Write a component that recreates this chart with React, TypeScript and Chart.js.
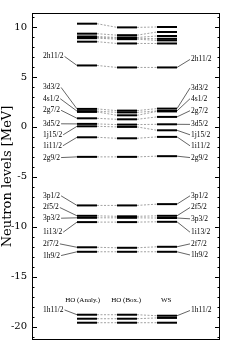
import React, { useEffect, useRef } from "react";
import { Chart, registerables } from "chart.js";
Chart.register(...registerables);

// ---- data ----
const models = ["HO (Analy.)", "HO (Box.)", "WS"];
const modelX = [1, 2, 3];
const modelLabelX = [0.89, 1.98, 2.98];
const modelLabelY = -17.3;

const stateNames = ["", "", "", "", "", "", "2h11/2", "3d3/2", "4s1/2", "", "2g7/2", "3d5/2", "1j15/2", "1i11/2", "2g9/2", "3p1/2", "2f5/2", "3p3/2", "1i13/2", "2f7/2", "1h9/2", "1h11/2", "", ""];
const hoAnaly = [10.33, 9.33, 9.05, 8.95, 8.88, 8.53, 6.15, 1.8, 1.58, 1.5, 0.86, 0.3, 0.06, -1.04, -3.0, -7.86, -8.9, -9.1, -9.53, -12.05, -12.5, -18.8, -19.2, -19.6];
const hoBox = [9.96, 9.18, 8.95, 8.88, 8.78, 8.35, 5.95, 1.63, 1.45, 1.16, 0.76, 0.23, 0.0, -1.14, -3.0, -7.86, -8.95, -9.1, -9.53, -12.1, -12.5, -18.8, -19.2, -19.6];
const ws = [10.0, 9.5, 9.1, 8.82, 8.66, 8.35, 5.95, 1.83, 1.6, 1.55, 1.0, 0.26, -0.34, -1.0, -2.93, -7.73, -8.9, -9.12, -9.5, -12.0, -12.5, -18.9, -19.12, -19.6];

const labelNames = ["2h11/2", "3d3/2", "4s1/2", "2g7/2", "3d5/2", "1j15/2", "1i11/2", "2g9/2", "3p1/2", "2f5/2", "3p3/2", "1i13/2", "2f7/2", "1h9/2", "1h11/2"];
const leftLabelY = [7.05, 3.95, 2.82, 1.66, 0.31, -0.79, -1.89, -3.07, -6.9, -8.07, -9.14, -10.54, -11.71, -12.88, -18.32];
const rightLabelY = [6.75, 3.9, 2.82, 1.62, 0.25, -0.79, -1.89, -3.07, -6.9, -8.07, -9.2, -10.54, -11.71, -12.82, -18.38];
const yTicks = [-20, -15, -10, -5, 0, 5, 10];

const Y_MIN = -21.33;
const Y_MAX = 11.4;
const X_MIN = -0.375;
const X_MAX = 4.325;
const HALF_W = 0.25;
const LEFT_LABEL_X = -0.1;
const RIGHT_LABEL_X = 3.6;

const series = [hoAnaly, hoBox, ws];

export default function App() {
  const ref = useRef<HTMLCanvasElement | null>(null);

  useEffect(() => {
    if (!ref.current) return;
    const datasets: any[] = [];
    // dashed connectors between models
    stateNames.forEach((_, i) => {
      for (let m = 0; m < series.length - 1; m++) {
        datasets.push({
          data: [
            { x: modelX[m] + HALF_W, y: series[m][i] },
            { x: modelX[m + 1] - HALF_W, y: series[m + 1][i] },
          ],
          borderColor: "#8a8a8a",
          borderWidth: 0.8,
          borderDash: [2, 1.5],
          pointRadius: 0,
          fill: false,
        });
      }
    });
    // levels
    stateNames.forEach((_, i) => {
      for (let m = 0; m < series.length; m++) {
        datasets.push({
          data: [
            { x: modelX[m] - HALF_W, y: series[m][i] },
            { x: modelX[m] + HALF_W, y: series[m][i] },
          ],
          borderColor: "#000",
          borderWidth: 2,
          pointRadius: 0,
          fill: false,
        });
      }
    });

    const overlay = {
      id: "overlay",
      afterDatasetsDraw(chart: any) {
        const { ctx, chartArea: a } = chart;
        const xs = chart.scales.x;
        const ys = chart.scales.y;
        const line = (x1: number, y1: number, x2: number, y2: number) => {
          ctx.beginPath();
          ctx.moveTo(x1, y1);
          ctx.lineTo(x2, y2);
          ctx.stroke();
        };
        ctx.save();
        ctx.strokeStyle = "#000";
        ctx.lineWidth = 1;
        ctx.strokeRect(a.left + 0.5, a.top + 0.5, a.right - a.left - 1, a.bottom - a.top - 1);
        for (let v = Math.ceil(Y_MIN); v <= Math.floor(Y_MAX); v++) {
          const py = Math.round(ys.getPixelForValue(v)) + 0.5;
          const len = v % 5 === 0 ? 5 : 2.5;
          line(a.left, py, a.left + len, py);
          line(a.right - len, py, a.right, py);
        }
        ctx.fillStyle = "#000";
        ctx.textBaseline = "middle";
        ctx.font = "7.5px 'Liberation Serif'";
        ctx.lineWidth = 0.7;
        ctx.strokeStyle = "#222";
        labelNames.forEach((name, i) => {
          const idx = stateNames.indexOf(name);
          // left
          const lx = xs.getPixelForValue(LEFT_LABEL_X);
          const ly = ys.getPixelForValue(leftLabelY[i]);
          ctx.textAlign = "left";
          ctx.fillText(name, lx, ly);
          const w = ctx.measureText(name).width;
          line(lx + w + 1, ly, xs.getPixelForValue(modelX[0] - HALF_W), ys.getPixelForValue(hoAnaly[idx]));
          // right
          const rx = xs.getPixelForValue(RIGHT_LABEL_X);
          const ry = ys.getPixelForValue(rightLabelY[i]);
          ctx.fillText(name, rx, ry);
          line(xs.getPixelForValue(modelX[2] + HALF_W), ys.getPixelForValue(ws[idx]), rx - 1, ry);
        });
        ctx.font = "7px 'Liberation Serif'";
        ctx.textAlign = "center";
        models.forEach((name, m) => {
          ctx.fillText(name, xs.getPixelForValue(modelLabelX[m]), ys.getPixelForValue(modelLabelY));
        });
        ctx.restore();
      },
    };

    const chart = new Chart(ref.current, {
      type: "line",
      data: { datasets },
      options: {
        animation: false,
        responsive: false,
        events: [],
        layout: { padding: { top: 13, bottom: 14, left: 0, right: 25 } },
        plugins: { legend: { display: false }, tooltip: { enabled: false } },
        scales: {
          x: { type: "linear", min: X_MIN, max: X_MAX, display: false },
          y: {
            type: "linear",
            min: Y_MIN,
            max: Y_MAX,
            afterBuildTicks: (scale: any) => {
              scale.ticks = yTicks.map((v) => ({ value: v }));
            },
            afterFit: (scale: any) => {
              scale.width = 32;
            },
            grid: { display: false, drawTicks: false },
            border: { display: false },
            ticks: {
              color: "#000",
              padding: 5,
              font: { family: "'DejaVu Serif'", size: 10 },
            },
            title: {
              display: true,
              text: "Neutron levels [MeV]",
              color: "#000",
              font: { family: "'DejaVu Serif'", size: 13 },
              padding: { top: 0, bottom: 0 },
            },
          },
        },
      },
      plugins: [overlay],
    });
    return () => chart.destroy();
  }, []);

  return (
    <div style={{ position: "fixed", left: 0, top: 0, width: 245, height: 354, background: "#fff" }}>
      <canvas ref={ref} width={245} height={354} />
    </div>
  );
}
